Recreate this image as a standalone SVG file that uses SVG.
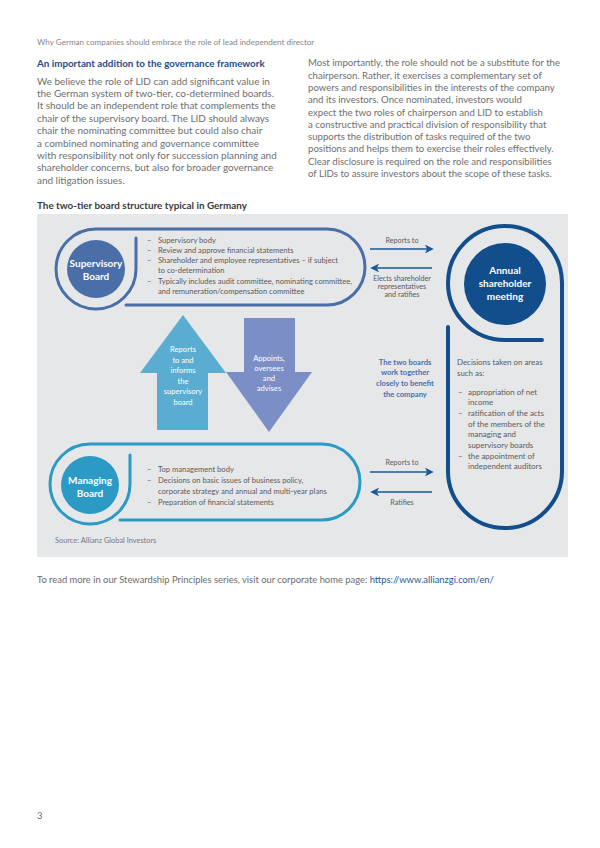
<svg xmlns="http://www.w3.org/2000/svg" width="600" height="848" viewBox="0 0 600 848">
<defs>
<style>
text{font-family:Lato,"Liberation Sans",sans-serif}
.hdr{font-size:8.1px;fill:#858585}
.h1{font-size:9.8px;font-weight:bold;fill:#1c4d8c}
.h2{font-size:9.9px;font-weight:bold;fill:#3a3a3a}
.body{font-size:9.6px;fill:#6e6e6e}
.bodyl{font-size:9.95px}
.sm{font-size:7.6px;fill:#5a5a5a}
.sm2{font-size:7.9px;fill:#5a5a5a}
.lbl{font-size:7.2px;fill:#5a5a5a}
.wt{font-size:7.6px;fill:#ffffff}
.cl{font-size:10px;font-weight:bold;fill:#ffffff}
.mid{font-size:7.6px;font-weight:bold;fill:#4a6ea8}
.src{font-size:7.4px;fill:#7a7a7a}
.foot{font-size:9.4px;fill:#6b6b6b}
.conn{stroke:#1b5a97;stroke-width:1.6;fill:none}
</style>
<marker id="ah" viewBox="0 0 10 10" refX="8" refY="5" markerWidth="5.5" markerHeight="5.5" orient="auto" markerUnits="strokeWidth">
<path d="M0,0 L10,5 L0,10 L2.5,5 z" fill="#1b5a97"/>
</marker>
</defs>
<rect width="600" height="848" fill="#ffffff"/>

<text class="hdr" x="37" y="44.5">Why German companies should embrace the role of lead independent director</text>

<text class="h1" x="37" y="66.5">An important addition to the governance framework</text>
<g class="body">
<g class="bodyl">
<text x="37" y="84.5">We believe the role of LID can add significant value in</text>
<text x="37" y="96.9">the German system of two-tier, co-determined boards.</text>
<text x="37" y="109.3">It should be an independent role that complements the</text>
<text x="37" y="121.7">chair of the supervisory board. The LID should always</text>
<text x="37" y="134.1">chair the nominating committee but could also chair</text>
<text x="37" y="146.5">a combined nominating and governance committee</text>
<text x="37" y="158.9">with responsibility not only for succession planning and</text>
<text x="37" y="171.3">shareholder concerns, but also for broader governance</text>
<text x="37" y="183.7">and litigation issues.</text>
</g>
<text x="308" y="66.3">Most importantly, the role should not be a substitute for the</text>
<text x="308" y="78.6">chairperson. Rather, it exercises a complementary set of</text>
<text x="308" y="90.9">powers and responsibilities in the interests of the company</text>
<text x="308" y="103.2">and its investors. Once nominated, investors would</text>
<text x="308" y="115.5">expect the two roles of chairperson and LID to establish</text>
<text x="308" y="127.8">a constructive and practical division of responsibility that</text>
<text x="308" y="140.1">supports the distribution of tasks required of the two</text>
<text x="308" y="152.4">positions and helps them to exercise their roles effectively.</text>
<text x="308" y="164.7">Clear disclosure is required on the role and responsibilities</text>
<text x="308" y="177">of LIDs to assure investors about the scope of these tasks.</text>
</g>

<text class="h2" x="37" y="208.5">The two-tier board structure typical in Germany</text>

<rect x="37" y="214" width="531" height="343" fill="#e6e7e9"/>

<g id="connectors">
<line class="conn" x1="370" y1="249" x2="432" y2="249" marker-end="url(#ah)"/>
<line class="conn" x1="432" y1="268" x2="372" y2="268" marker-end="url(#ah)"/>
<line class="conn" x1="370" y1="472" x2="432" y2="472" marker-end="url(#ah)"/>
<line class="conn" x1="432" y1="492" x2="372" y2="492" marker-end="url(#ah)"/>
<g text-anchor="middle">
<text class="lbl" x="402" y="242.5">Reports to</text>
<text class="lbl" x="402" y="281">Elects shareholder</text>
<text class="lbl" x="402" y="289">representatives</text>
<text class="lbl" x="402" y="297">and ratifies</text>
<text class="lbl" x="402" y="464.5">Reports to</text>
<text class="lbl" x="402" y="505">Ratifies</text>
</g>
<g id="up-arrow">
<polygon points="183,315 226,373 208,373 208,430 157,430 157,373 140,373" fill="#5aadd0"/>
<g text-anchor="middle" class="wt">
<text x="183" y="352">Reports</text>
<text x="183" y="362.5">to and</text>
<text x="183" y="373">informs</text>
<text x="183" y="383.5">the</text>
<text x="183" y="394">supervisory</text>
<text x="183" y="404.5">board</text>
</g>
</g>
<g id="down-arrow">
<polygon points="244,318 295,318 295,372 312,372 269,432 226,372 244,372" fill="#7b8fc6"/>
<g text-anchor="middle" class="wt">
<text x="269" y="361">Appoints,</text>
<text x="269" y="371">oversees</text>
<text x="269" y="381">and</text>
<text x="269" y="391">advises</text>
</g>
</g>
</g>

<g id="supervisory-board">
<path d="M136,238 L136,269 A40,40 0 1 1 96,229 L327,229 A38,38 0 0 1 327,305 L126,305" fill="none" stroke="#4a6ea8" stroke-width="3" stroke-linecap="round"/>
<circle cx="96" cy="269" r="29" fill="#4a6ea8"/>
<text class="cl" x="96" y="266.5" text-anchor="middle">Supervisory</text>
<text class="cl" x="96" y="279.5" text-anchor="middle">Board</text>
<g class="sm">
<text x="147" y="242.7">–</text><text x="158" y="242.7">Supervisory body</text>
<text x="147" y="252.9">–</text><text x="158" y="252.9">Review and approve financial statements</text>
<text x="147" y="263.1">–</text><text x="158" y="263.1">Shareholder and employee representatives – if subject</text>
<text x="158" y="273.3">to co-determination</text>
<text x="147" y="283.5">–</text><text x="158" y="283.5">Typically includes audit committee, nominating committee,</text>
<text x="158" y="293.7">and remuneration/compensation committee</text>
</g>
</g>

<g id="annual-meeting">
<path d="M542,340 L505,340 A57,57 0 1 1 562,283 L562,471 A57,57 0 0 1 448,471 L448,327" fill="none" stroke="#114e8b" stroke-width="4" stroke-linecap="round"/>
<circle cx="505" cy="284" r="41" fill="#114e8b"/>
<g text-anchor="middle" class="cl">
<text x="505" y="273.5">Annual</text>
<text x="505" y="286.5">shareholder</text>
<text x="505" y="299.5">meeting</text>
</g>
<g class="sm2">
<text x="457" y="364.7">Decisions taken on areas</text>
<text x="457" y="375.5">such as:</text>
<text x="458" y="394.7">–</text><text x="468" y="394.7">appropriation of net</text>
<text x="468" y="405.4">income</text>
<text x="458" y="416">–</text><text x="468" y="416">ratification of the acts</text>
<text x="468" y="426.7">of the members of the</text>
<text x="468" y="437.4">managing and</text>
<text x="468" y="448">supervisory boards</text>
<text x="458" y="458.7">–</text><text x="468" y="458.7">the appointment of</text>
<text x="468" y="469.4">independent auditors</text>
</g>
</g>

<g id="boards-together" text-anchor="middle" class="mid">
<text x="405" y="364.7">The two boards</text>
<text x="405" y="375.4">work together</text>
<text x="405" y="386.1">closely to benefit</text>
<text x="405" y="396.8">the company</text>
</g>

<g id="managing-board">
<path d="M130,455 L130,484 A40,40 0 1 1 90,444 L322,444 A38,38 0 0 1 322,520 L120,520" fill="none" stroke="#2b9ac5" stroke-width="3" stroke-linecap="round"/>
<circle cx="90" cy="485" r="29" fill="#2b9ac5"/>
<text class="cl" x="90" y="483.5" text-anchor="middle">Managing</text>
<text class="cl" x="90" y="496.5" text-anchor="middle">Board</text>
<g class="sm">
<text x="147" y="471.7">–</text><text x="158" y="471.7">Top management body</text>
<text x="147" y="482.7">–</text><text x="158" y="482.7">Decisions on basic issues of business policy,</text>
<text x="158" y="493.7">corporate strategy and annual and multi-year plans</text>
<text x="147" y="504.7">–</text><text x="158" y="504.7">Preparation of financial statements</text>
</g>
</g>

<text class="src" x="55" y="542.5">Source: Allianz Global Investors</text>

<text class="foot" x="37" y="583">To read more in our Stewardship Principles series, visit our corporate home page: <tspan fill="#1e5a96">https://www.allianzgi.com/en/</tspan></text>

<text class="foot" x="37" y="819" font-size="8">3</text>
</svg>
